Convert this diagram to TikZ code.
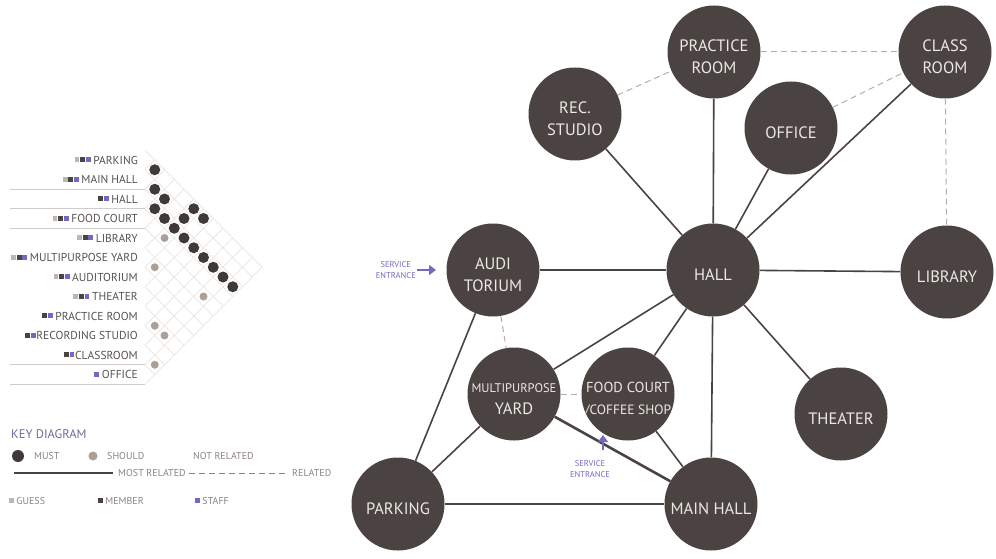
\documentclass[tikz,border=0pt]{standalone}
\usepackage{fontspec}
\setmainfont{PT Sans}
\usetikzlibrary{arrows.meta}
\definecolor{nodefill}{HTML}{4B4341}
\definecolor{nodetext}{HTML}{ECE8E4}
\definecolor{edgecol}{HTML}{4B4341}
\definecolor{dashcol}{HTML}{B5ADA9}
\definecolor{latcol}{HTML}{E3DFDC}
\definecolor{mustcol}{HTML}{3F3937}
\definecolor{shouldcol}{HTML}{AAA097}
\definecolor{staffcol}{HTML}{7567C4}
\definecolor{guesscol}{HTML}{BDB6B2}
\definecolor{rowtext}{HTML}{575050}
\definecolor{keytext}{HTML}{8C8480}
\definecolor{keyhead}{HTML}{6E6A9E}
\newcommand{\sqG}{\textcolor{guesscol}{\rule[1.9pt]{4.8pt}{4.8pt}}\hspace{0.8pt}}
\newcommand{\sqM}{\textcolor{nodefill}{\rule[1.9pt]{4.8pt}{4.8pt}}\hspace{0.8pt}}
\newcommand{\sqS}{\textcolor{staffcol}{\rule[1.9pt]{4.8pt}{4.8pt}}\hspace{0.8pt}}
\tikzset{
  lbl/.style={text=nodetext, font=\fontsize{16.5}{22}\selectfont, align=center, yshift=-5pt},
  place/.style={circle, fill=nodefill, minimum size=93pt, inner sep=0pt, label={[lbl]center:#1}},
  link/.style={draw=edgecol, line width=1.6pt},
  rel/.style={draw=dashcol, line width=1pt, dash pattern=on 6pt off 4pt},
  rowlbl/.style={text=rowtext, font=\fontsize{11.5}{13}\selectfont, inner sep=0pt, anchor=east},
  mustdot/.style={circle, fill=mustcol, minimum size=11pt, inner sep=0pt},
  shoulddot/.style={circle, fill=shouldcol, minimum size=8pt, inner sep=0pt},
  lat/.style={draw=latcol, line width=0.5pt},
  sepline/.style={draw=latcol!80!gray, line width=0.7pt},
  keytxt/.style={text=keytext, font=\fontsize{10}{12}\selectfont, inner sep=0pt, anchor=west},
  keyhd/.style={text=keyhead, font=\fontsize{12.5}{14}\selectfont, inner sep=0pt, anchor=west},
  svc/.style={text=staffcol, font=\fontsize{8.5}{11}\selectfont, align=center, inner sep=1pt},
  svcarrow/.style={draw=staffcol, line width=2.6pt, -{Triangle[length=7pt,width=10pt]}}
}
\begin{document}
\begin{tikzpicture}[x=1pt,y=-1pt]
\useasboundingbox (0,0) rectangle (996,559);
% ---------- matrix lattice ----------
\foreach \k in {0,...,12}{
  \draw[lat] (145,{150.25+19.5*\k}) -- ({145+9.75*(12-\k)},{150.25+19.5*\k+9.75*(12-\k)});
  \draw[lat] (145,{150.25+19.5*\k}) -- ({145+9.75*\k},{150.25+19.5*\k-9.75*\k});
}
\foreach \k in {2,3,4,11,12}{
  \draw[sepline] (10,{150.25+19.5*\k}) -- (145,{150.25+19.5*\k});
}
% ---------- row labels ----------
\node[rowlbl] (r0) at (138,160) {\sqG\sqM\sqS\,PARKING};
\node[rowlbl] (r1) at (138,179.5) {\sqG\sqM\sqS\,MAIN HALL};
\node[rowlbl] (r2) at (138,199) {\sqM\sqS\,HALL};
\node[rowlbl] (r3) at (138,218.5) {\sqG\sqM\sqS\,FOOD COURT};
\node[rowlbl] (r4) at (138,238) {\sqG\sqM\sqS\,LIBRARY};
\node[rowlbl] (r5) at (138,257.5) {\sqG\sqM\sqS\,MULTIPURPOSE YARD};
\node[rowlbl] (r6) at (138,277) {\sqG\sqM\sqS\,AUDITORIUM};
\node[rowlbl] (r7) at (138,296.5) {\sqG\sqM\sqS\,THEATER};
\node[rowlbl] (r8) at (138,316) {\sqM\sqS\,PRACTICE ROOM};
\node[rowlbl] (r9) at (138,335.5) {\sqM\sqS RECORDING STUDIO};
\node[rowlbl] (r10) at (138,355) {\sqM\sqS CLASSROOM};
\node[rowlbl] (r11) at (138,374.5) {\sqS\,OFFICE};
% ---------- matrix dots ----------
\foreach \i/\j in {0/1,1/2,1/3,2/3,2/4,2/5,1/5,0/5,0/6,2/6,2/7,2/8,2/9,2/10,2/11}{
  \node[mustdot] (d\i-\j) at ({145+9.75*(\j-\i)},{160+9.75*(\i+\j)}) {};
}
\foreach \i/\j in {3/5,5/6,4/10,8/9,8/10,10/11}{
  \node[shoulddot] (d\i-\j) at ({145+9.75*(\j-\i)},{160+9.75*(\i+\j)}) {};
}
% ---------- key ----------
\node[keyhd] (keyt) at (11,434) {KEY DIAGRAM};
\node[mustdot, minimum size=12pt] (kmust) at (18,456) {};
\node[keytxt] (kmustt) at (34,456) {MUST};
\node[shoulddot, minimum size=9pt] (kshould) at (93,456) {};
\node[keytxt] (kshouldt) at (107,456) {SHOULD};
\node[keytxt] (knot) at (193,456) {NOT RELATED};
\coordinate (ka) at (14,473);
\coordinate (kb) at (113,473);
\draw[draw=edgecol, line width=1.3pt] (ka) -- (kb);
\node[keytxt] (kmost) at (118,473) {MOST RELATED};
\coordinate (kc) at (189,473);
\coordinate (kd) at (286,473);
\draw[rel, draw=keytext] (kc) -- (kd);
\node[keytxt] (krel) at (292,473) {RELATED};
\node[keytxt] (kguess) at (9,501) {\sqG\,GUESS};
\node[keytxt] (kmember) at (98,501) {\sqM\,MEMBER};
\node[keytxt] (kstaff) at (195,501) {\sqS\,STAFF};
% ---------- bubble diagram ----------
\node[place={PRACTICE\\ROOM}] (prac) at (714,52) {};
\node[place={CLASS\\ROOM}] (cls) at (945,52) {};
\node[place={REC.\\STUDIO}] (rec) at (575,114) {};
\node[place={OFFICE}] (off) at (791,128) {};
\node[place={HALL}] (hall) at (713,270) {};
\node[place={LIBRARY}] (lib) at (947,272) {};
\node[place={AUDI\\TORIUM}] (aud) at (493,270) {};
\node[place={THEATER}] (thr) at (841,414) {};
\node[place={{\fontsize{12.5}{15}\selectfont MULTIPURPOSE}\\YARD}] (yard) at (514,394) {};
\node[place={{\fontsize{14.5}{20}\selectfont FOOD COURT}\\{\fontsize{13.5}{20}\selectfont /COFFEE SHOP}}] (food) at (628,394) {};
\node[place={PARKING}] (park) at (398,504) {};
\node[place={MAIN HALL}] (mhall) at (711,504) {};
% solid links
\draw[link] (hall) -- (prac);
\draw[link] (hall) -- (rec);
\draw[link] (hall) -- (off);
\draw[link] (hall) -- (cls);
\draw[link] (hall) -- (lib);
\draw[link] (hall) -- (aud);
\draw[link] (hall) -- (yard);
\draw[link] (hall) -- (food);
\draw[link] (hall) -- (thr);
\draw[link] (hall) -- (mhall);
\draw[link] (aud) -- (park);
\draw[link] (park) -- (yard);
\draw[link] (park) -- (mhall);
\draw[link, line width=2.6pt] (yard) -- (mhall);
\draw[link] (food) -- (mhall);
% dashed relations
\draw[rel] (rec) -- (prac);
\draw[rel] (prac) -- (cls);
\draw[rel] (off) -- (cls);
\draw[rel] (cls) -- (lib);
\draw[rel] (aud) -- (yard);
\draw[rel] (yard) -- (food);
% service entrances
\node[svc, anchor=east] (svc1) at (417,270) {SERVICE\\ENTRANCE};
\coordinate (svc1tip) at (436,270);
\draw[svcarrow] (svc1) -- (svc1tip);
\node[svc] (svc2) at (590,469) {SERVICE\\ENTRANCE};
\coordinate (svc2base) at (603,450);
\coordinate (svc2tip) at (603,435);
\draw[svcarrow] (svc2base) -- (svc2tip);
\end{tikzpicture}
\end{document}
